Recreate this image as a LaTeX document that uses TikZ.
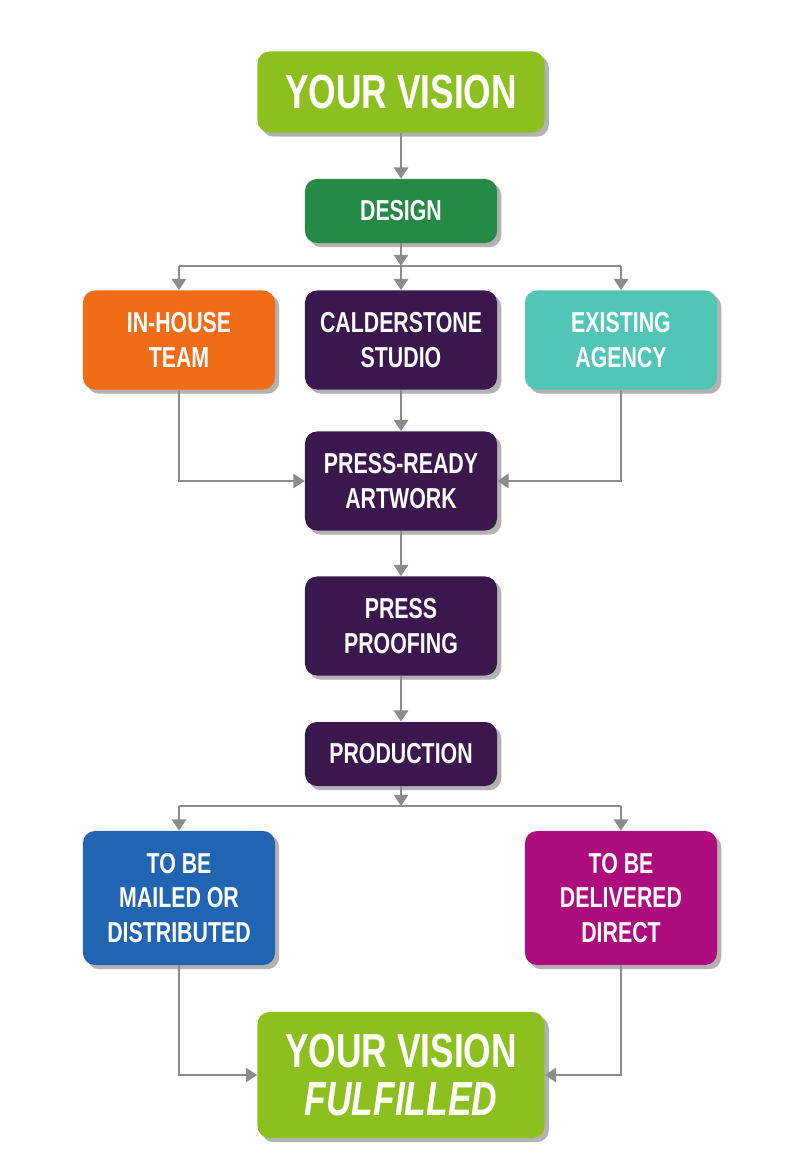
\documentclass[tikz,border=0pt]{standalone}
\usepackage{fontspec}
\usepackage{tikz}
\usetikzlibrary{arrows.meta, shadows}
\newfontfamily\condfont[FakeStretch=0.74]{Liberation Sans}
\definecolor{visiongreen}{RGB}{141, 192, 31}
\definecolor{designgreen}{RGB}{36, 138, 70}
\definecolor{houseorange}{RGB}{240, 108, 22}
\definecolor{studiopurple}{RGB}{58, 24, 78}
\definecolor{agencyteal}{RGB}{82, 198, 182}
\definecolor{mailblue}{RGB}{32, 100, 178}
\definecolor{directmagenta}{RGB}{172, 12, 124}
\definecolor{arrowgray}{RGB}{140, 140, 140}

\begin{document}
\begin{tikzpicture}[x=0.025cm, y=-0.025cm,
  box/.style={rectangle, rounded corners=0.3cm, text=white, align=center,
    minimum width=4.8cm, inner sep=0pt,
    drop shadow={shadow xshift=3pt, shadow yshift=-3pt, opacity=0.3, fill=black},
    font=\condfont\bfseries\fontsize{20.5}{24.5}\selectfont},
  bigbox/.style={box, minimum width=7.175cm, fill=visiongreen,
    font=\condfont\bfseries\fontsize{34}{34}\selectfont},
  flow/.style={-{Triangle[width=10pt,length=8pt]}, line width=2pt, arrowgray},
  bar/.style={line width=2pt, arrowgray}]

\useasboundingbox (0,0) rectangle (800,1163);

% Start
\node[bigbox, minimum height=2.025cm] at (401,92) (vision) {YOUR VISION};

% Design
\node[box, fill=designgreen, minimum height=1.6cm] at (401,211) (design) {DESIGN};

% Who makes the artwork
\node[box, fill=houseorange, minimum height=2.475cm] at (179,340) (inhouse) {IN-HOUSE\\TEAM};
\node[box, fill=studiopurple, minimum height=2.475cm] at (401,340) (studio) {CALDERSTONE\\STUDIO};
\node[box, fill=agencyteal, minimum height=2.475cm] at (621,340) (agency) {EXISTING\\AGENCY};

% Artwork, proofing, production
\node[box, fill=studiopurple, minimum height=2.475cm] at (401,481) (artwork) {PRESS-READY\\ARTWORK};
\node[box, fill=studiopurple, minimum height=2.475cm] at (401,626) (proofing) {PRESS\\PROOFING};
\node[box, fill=studiopurple, minimum height=1.6cm] at (401,754) (production) {PRODUCTION};

% Delivery
\node[box, fill=mailblue, minimum height=3.35cm] at (179,898) (mailed) {TO BE\\MAILED OR\\DISTRIBUTED};
\node[box, fill=directmagenta, minimum height=3.35cm] at (621,898) (direct) {TO BE\\DELIVERED\\DIRECT};

% End
\node[bigbox, minimum height=3.15cm] at (401,1075) (fulfilled) {YOUR VISION\\\itshape FULFILLED};

% Split points
\coordinate (split1) at (401,266);
\coordinate (split2) at (401,806);

% Connections
\draw[flow] (vision) -- (design);
\draw[flow] (design) -- (split1);
\draw[bar] (inhouse |- split1) -- (agency |- split1);
\foreach \target in {inhouse,studio,agency} {
  \draw[flow] (\target |- split1) -- (\target);
}
\draw[flow] (studio) -- (artwork);
\draw[flow] (inhouse) |- (artwork);
\draw[flow] (agency) |- (artwork);
\draw[flow] (artwork) -- (proofing);
\draw[flow] (proofing) -- (production);
\draw[flow] (production) -- (split2);
\draw[bar] (mailed |- split2) -- (direct |- split2);
\foreach \target in {mailed,direct} {
  \draw[flow] (\target |- split2) -- (\target);
}
\draw[flow] (mailed) |- (fulfilled);
\draw[flow] (direct) |- (fulfilled);

\end{tikzpicture}
\end{document}
